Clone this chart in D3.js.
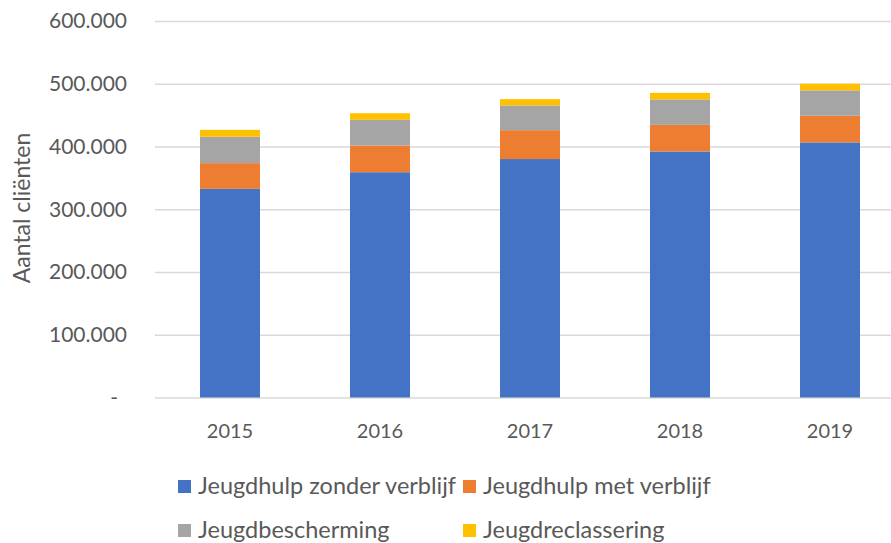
<!DOCTYPE html>
<html>
<head>
<meta charset="utf-8">
<title>Aantal cliënten jeugdzorg</title>
<script src="https://d3js.org/d3.v7.min.js"></script>
<style>
  body { margin: 0; background: #fff; }
  svg text { font-family: Lato, "Open Sans", sans-serif; fill: #595959; }
  .grid line { stroke: #d9d9d9; stroke-width: 1.5; }
  .grid path { display: none; }
</style>
</head>
<body>
<svg width="891" height="543"></svg>
<script>
// jaren en aantallen per soort zorg
var years = ["2015", "2016", "2017", "2018", "2019"];
var series = ["Jeugdhulp zonder verblijf", "Jeugdhulp met verblijf", "Jeugdbescherming", "Jeugdreclassering"];
var zonderVerblijf = [332500, 359000, 380000, 392000, 406500];
var metVerblijf    = [41000, 42500, 46000, 42500, 42500];
var bescherming    = [42000, 41000, 39500, 40500, 40500];
var reclassering   = [11000, 10500, 10000, 10500, 10500];
var yTicks = [0, 100000, 200000, 300000, 400000, 500000, 600000];
var colors = ["#4472c4", "#ed7d31", "#a5a5a5", "#ffc000"];

var svg = d3.select("svg");

var rows = years.map(function(y, i) {
  return { year: y, s0: zonderVerblijf[i], s1: metVerblijf[i], s2: bescherming[i], s3: reclassering[i] };
});

var x = d3.scaleBand().domain(years).range([155, 905]).paddingInner(0.6).paddingOuter(0.3);
var y = d3.scaleLinear().domain([0, 600000]).range([397.5, 21]);

var fmt = function(d) {
  if (d === 0) return "-";
  return d3.format(",")(d).replace(/,/g, ".");
};

// rasterlijnen
svg.append("g")
    .attr("class", "grid")
    .attr("transform", "translate(155,0)")
    .call(d3.axisLeft(y).tickValues(yTicks).tickSize(-750).tickFormat(""));

// y-as labels
svg.append("g").selectAll("text")
  .data(yTicks)
  .enter().append("text")
    .attr("x", function(d) { return d === 0 ? 118 : 127; })
    .attr("y", function(d) { return y(d); })
    .attr("dy", "0.35em")
    .attr("text-anchor", "end")
    .style("font-size", "21px")
    .text(fmt);

svg.append("text")
    .attr("transform", "translate(30,208) rotate(-90)")
    .attr("text-anchor", "middle")
    .style("font-size", "23px")
    .text("Aantal cliënten");

var stack = d3.stack().keys(["s0", "s1", "s2", "s3"]);

svg.append("g").selectAll("g")
  .data(stack(rows))
  .enter().append("g")
    .attr("fill", function(d, i) { return colors[i]; })
  .selectAll("rect")
  .data(function(d) { return d; })
  .enter().append("rect")
    .attr("x", function(d) { return x(d.data.year); })
    .attr("y", function(d) { return y(d[1]); })
    .attr("width", x.bandwidth())
    .attr("height", function(d) { return y(d[0]) - y(d[1]); });

// x-as labels
svg.append("g").selectAll("text")
  .data(years)
  .enter().append("text")
    .attr("x", function(d) { return x(d) + x.bandwidth() / 2; })
    .attr("y", 431)
    .attr("dy", "0.35em")
    .attr("text-anchor", "middle")
    .style("font-size", "20px")
    .text(function(d) { return d; });

// legenda
var legendPos = [[178, 486], [463, 486], [178, 530], [463, 530]];
var legend = svg.append("g").selectAll("g")
  .data(series)
  .enter().append("g")
    .attr("transform", function(d, i) { return "translate(" + legendPos[i][0] + "," + legendPos[i][1] + ")"; });

legend.append("rect")
    .attr("x", 0)
    .attr("y", -6)
    .attr("width", 13)
    .attr("height", 13)
    .attr("fill", function(d, i) { return colors[i]; });

legend.append("text")
    .attr("x", 20)
    .attr("dy", "0.35em")
    .style("font-size", "23.5px")
    .text(function(d) { return d; });
</script>
</body>
</html>
